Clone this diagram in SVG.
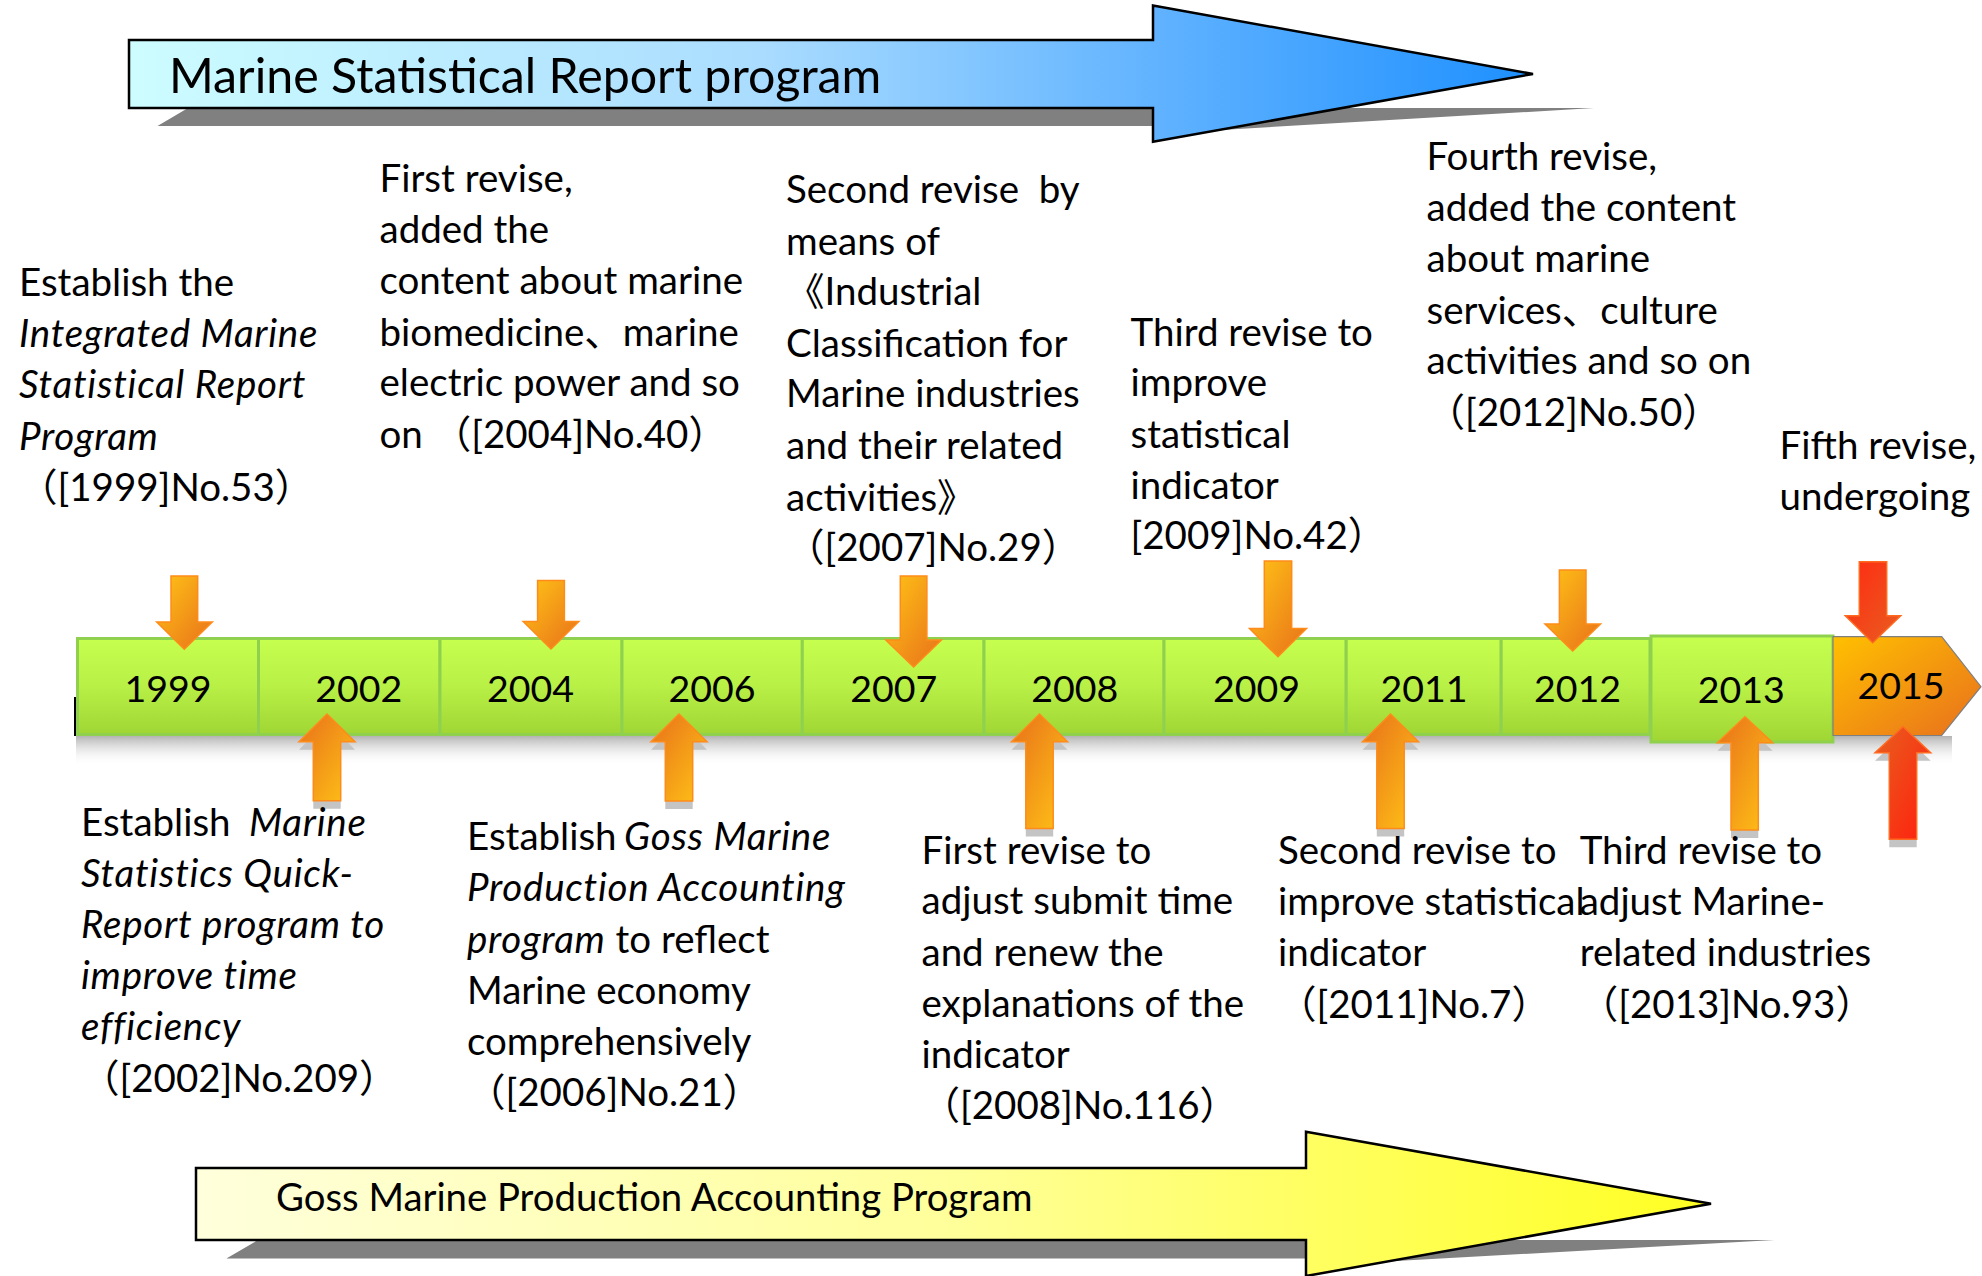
<svg xmlns="http://www.w3.org/2000/svg" width="1982" height="1276" viewBox="0 0 1982 1276">
<style>
.t{font-family:Lato,"Noto Sans CJK SC",sans-serif;font-size:38.5px;fill:#000;white-space:pre}
.i{font-style:italic;letter-spacing:0.75px}
.yr{font-family:Lato,"Noto Sans CJK SC",sans-serif;font-size:37.5px;fill:#000;text-anchor:middle}
.ttl{font-family:Lato,"Noto Sans CJK SC",sans-serif;fill:#000;white-space:pre}
.seg{fill:url(#gGreen);stroke:#8fd14f;stroke-width:3}
.dn{fill:url(#gDown);stroke:#ff8c1a;stroke-width:1.5}
.up{fill:url(#gUp);stroke:#ff8c1a;stroke-width:1.5}
.dnr{fill:url(#gDownR);stroke:#ff6a20;stroke-width:1.5}
.upr{fill:url(#gUpR);stroke:#ff6a20;stroke-width:1.5}
.sh{fill:#c4c4c4}
</style>
<defs>
<linearGradient id="gBlue" x1="0" y1="0" x2="1" y2="0">
<stop offset="0" stop-color="#cdfdff"/><stop offset="0.45" stop-color="#aadcff"/><stop offset="0.75" stop-color="#5cb0ff"/><stop offset="1" stop-color="#1e90ff"/>
</linearGradient>
<linearGradient id="gYellow" x1="0" y1="0" x2="1" y2="0">
<stop offset="0" stop-color="#ffffdc"/><stop offset="0.5" stop-color="#ffff9a"/><stop offset="1" stop-color="#ffff22"/>
</linearGradient>
<linearGradient id="gGreen" x1="0" y1="0" x2="0" y2="1">
<stop offset="0" stop-color="#c6ff4e"/><stop offset="0.5" stop-color="#b8f046"/><stop offset="1" stop-color="#a0d634"/>
</linearGradient>
<linearGradient id="gOrange" x1="0" y1="0" x2="1" y2="1">
<stop offset="0" stop-color="#ffc000"/><stop offset="1" stop-color="#e86f1d"/>
</linearGradient>
<linearGradient id="gDown" x1="0" y1="0" x2="1" y2="1">
<stop offset="0" stop-color="#ffc416"/><stop offset="1" stop-color="#e8701a"/>
</linearGradient>
<linearGradient id="gUp" x1="0" y1="0" x2="1" y2="1">
<stop offset="0" stop-color="#e8701a"/><stop offset="1" stop-color="#ffc416"/>
</linearGradient>
<linearGradient id="gDownR" x1="0" y1="0" x2="1" y2="1">
<stop offset="0" stop-color="#ff2a12"/><stop offset="1" stop-color="#e85e20"/>
</linearGradient>
<linearGradient id="gUpR" x1="0" y1="0" x2="1" y2="1">
<stop offset="0" stop-color="#e8601e"/><stop offset="1" stop-color="#ff1e0e"/>
</linearGradient>
<linearGradient id="gShade" x1="0" y1="0" x2="0" y2="1">
<stop offset="0" stop-color="#9a9a9a" stop-opacity="0.75"/><stop offset="1" stop-color="#ffffff" stop-opacity="0"/>
</linearGradient>
</defs>
<rect width="1982" height="1276" fill="#fff"/>

<g id="top-program">
<polygon points="157.5,126 188,108 1594,108 1153,134 1153,126" fill="#808080"/>
<path d="M129,40 H1153 V5.5 L1533,74 L1153,141.7 V108 H129 Z" fill="url(#gBlue)" stroke="#000" stroke-width="2.5"/>
<text class="ttl" x="169" y="92.5" font-size="48.3">Marine Statistical Report program</text>
</g>

<g id="bottom-program">
<polygon points="226.4,1258.6 258,1240 1774.5,1240 1306,1266 1306,1258.6" fill="#808080"/>
<path d="M196,1168 H1306 V1131.7 L1711,1203.8 L1306,1276 V1240 H196 Z" fill="url(#gYellow)" stroke="#000" stroke-width="2.5"/>
<text class="ttl" x="276" y="1210.7" font-size="38.3">Goss Marine Production Accounting Program</text>
</g>

<g id="timeline">
<rect x="76" y="736" width="1876" height="30" fill="url(#gShade)"/>
<rect x="74" y="697" width="2.5" height="39" fill="#000"/>
<g id="y1999"><rect class="seg" x="77.5" y="638.5" width="181" height="96"/><text class="yr" x="168" y="701.5">1999</text></g>
<g id="y2002"><rect class="seg" x="258.5" y="638.5" width="181.5" height="96"/><text class="yr" x="358.7" y="701.5">2002</text></g>
<g id="y2004"><rect class="seg" x="440" y="638.5" width="182" height="96"/><text class="yr" x="530.4" y="701.5">2004</text></g>
<g id="y2006"><rect class="seg" x="622" y="638.5" width="180.3" height="96"/><text class="yr" x="712" y="701.5">2006</text></g>
<g id="y2007"><rect class="seg" x="802.3" y="638.5" width="181.7" height="96"/><text class="yr" x="893.8" y="701.5">2007</text></g>
<g id="y2008"><rect class="seg" x="984" y="638.5" width="180" height="96"/><text class="yr" x="1074.8" y="701.5">2008</text></g>
<g id="y2009"><rect class="seg" x="1164" y="638.5" width="182.2" height="96"/><text class="yr" x="1256.4" y="701.5">2009</text></g>
<g id="y2011"><rect class="seg" x="1346.2" y="638.5" width="155" height="96"/><text class="yr" x="1424" y="701.5">2011</text></g>
<g id="y2012"><rect class="seg" x="1501.2" y="638.5" width="148.8" height="96"/><text class="yr" x="1577.5" y="701.5">2012</text></g>
<g id="y2013"><rect class="seg" x="1651" y="636" width="182" height="106" stroke-width="3.5"/><text class="yr" x="1741.3" y="703.3">2013</text></g>
<g id="y2015"><path d="M1833,636.7 H1941.7 L1981,686.7 L1941.7,735.5 H1833 Z" fill="url(#gOrange)" stroke="#7f7f7f" stroke-width="1.2"/><text class="yr" x="1901" y="699.3">2015</text></g>
</g>

<g id="connectors">
<path class="dn" d="M171,576 H197.7 V622 H212.3 L184.3,649.3 L156.7,622 H171 Z"/>
<path class="dn" d="M537.6,580.5 H564.4 V621.6 H578.8 L551,649 L523.2,621.6 H537.6 Z"/>
<path class="dn" d="M900.3,576 H926.9 V640 H941.4 L913.6,667 L885.8,640 H900.3 Z"/>
<path class="dn" d="M1264.3,561 H1291.7 V628.5 H1306.5 L1278,656.8 L1249.5,628.5 H1264.3 Z"/>
<path class="dn" d="M1559.4,570 H1586 V624 H1600.5 L1572.7,651 L1545,624 H1559.4 Z"/>
<path class="dnr" d="M1859.3,561.7 H1886.7 V615.7 H1900.7 L1872.7,642.7 L1845.3,615.7 H1859.3 Z"/>
<path class="sh" d="M327,722 L355,749.7 H340.7 V808.7 H313.3 V749.7 H299 Z"/>
<path class="sh" d="M679,722 L707,749.7 H692.7 V809 H665.3 V749.7 H651 Z"/>
<path class="sh" d="M1039.5,722 L1067.5,749.7 H1053.2 V836.5 H1025.8 V749.7 H1011.5 Z"/>
<path class="sh" d="M1390.5,722 L1418.5,749.7 H1404.2 V836.5 H1376.8 V749.7 H1362.5 Z"/>
<path class="sh" d="M1745,724.7 L1772.7,750.7 H1758.3 V838 H1731 V750.7 H1717.3 Z"/>
<path class="sh" d="M1903,734.7 L1930.7,760.7 H1916.7 V847.3 H1889.3 V760.7 H1875 Z"/>
<path class="up" d="M327,714 L355,741.7 H340.7 V800.7 H313.3 V741.7 H299 Z"/>
<path class="up" d="M679,714 L707,741.7 H692.7 V801 H665.3 V741.7 H651 Z"/>
<path class="up" d="M1039.5,714 L1067.5,741.7 H1053.2 V828.5 H1025.8 V741.7 H1011.5 Z"/>
<path class="up" d="M1390.5,714 L1418.5,741.7 H1404.2 V828.5 H1376.8 V741.7 H1362.5 Z"/>
<path class="up" d="M1745,716.7 L1772.7,742.7 H1758.3 V830 H1731 V742.7 H1717.3 Z"/>
<path class="upr" d="M1903,726.7 L1930.7,752.7 H1916.7 V839.3 H1889.3 V752.7 H1875 Z"/>
</g>

<g id="note-1999">
<text class="t" x="19" y="296">Establish the</text>
<text class="t i" x="19" y="347">Integrated Marine</text>
<text class="t i" x="19" y="398">Statistical Report</text>
<text class="t i" x="19" y="449.5">Program</text>
<text class="t" x="19" y="501">（[1999]No.53）</text>
</g>
<g id="note-2004">
<text class="t" x="379.5" y="192.4">First revise,</text>
<text class="t" x="379.5" y="243.4">added the</text>
<text class="t" x="379.5" y="294">content about marine</text>
<text class="t" x="379.5" y="346">biomedicine、marine</text>
<text class="t" x="379.5" y="396">electric power and so</text>
<text class="t" x="379.5" y="447.6">on （[2004]No.40）</text>
</g>
<g id="note-2007">
<text class="t" x="786" y="202.7">Second revise  by</text>
<text class="t" x="786" y="254.5">means of</text>
<text class="t" x="786" y="305">《Industrial</text>
<text class="t" x="786" y="357">Classification for</text>
<text class="t" x="786" y="407">Marine industries</text>
<text class="t" x="786" y="459">and their related</text>
<text class="t" x="786" y="510.5">activities》</text>
<text class="t" x="786" y="560.5">（[2007]No.29）</text>
</g>
<g id="note-2009">
<text class="t" x="1130.5" y="346">Third revise to</text>
<text class="t" x="1130.5" y="396">improve</text>
<text class="t" x="1130.5" y="447.6">statistical</text>
<text class="t" x="1130.5" y="499">indicator</text>
<text class="t" x="1130.5" y="549">[2009]No.42）</text>
</g>
<g id="note-2012">
<text class="t" x="1426.5" y="170">Fourth revise,</text>
<text class="t" x="1426.5" y="221">added the content</text>
<text class="t" x="1426.5" y="272">about marine</text>
<text class="t" x="1426.5" y="323.7">services、culture</text>
<text class="t" x="1426.5" y="373.7">activities and so on</text>
<text class="t" x="1426.5" y="425.5">（[2012]No.50）</text>
</g>
<g id="note-2015">
<text class="t" x="1779.6" y="458.7">Fifth revise,</text>
<text class="t" x="1779.6" y="509.8">undergoing</text>
</g>
<g id="note-2002">
<text class="t" x="81" y="836">Establish<tspan class="i" x="249">Marine</tspan></text>
<text class="t i" x="81" y="886.5">Statistics Quick-</text>
<text class="t i" x="81" y="938">Report program to</text>
<text class="t i" x="81" y="989">improve time</text>
<text class="t i" x="81" y="1040">efficiency</text>
<text class="t" x="81" y="1092">（[2002]No.209）</text>
</g>
<g id="note-2006">
<text class="t" x="467" y="850">Establish<tspan class="i" x="624">Goss Marine</tspan></text>
<text class="t i" x="467" y="901">Production Accounting</text>
<text class="t" x="467" y="952.7"><tspan class="i">program</tspan> to reflect</text>
<text class="t" x="467" y="1004">Marine economy</text>
<text class="t" x="467" y="1054.5">comprehensively</text>
<text class="t" x="467" y="1105.7">（[2006]No.21）</text>
</g>
<g id="note-2008">
<text class="t" x="921.5" y="863.6">First revise to</text>
<text class="t" x="921.5" y="914">adjust submit time</text>
<text class="t" x="921.5" y="965.5">and renew the</text>
<text class="t" x="921.5" y="1016.6">explanations of the</text>
<text class="t" x="921.5" y="1068">indicator</text>
<text class="t" x="921.5" y="1119">（[2008]No.116）</text>
</g>
<g id="note-2011">
<text class="t" x="1278" y="863.6">Second revise to</text>
<text class="t" x="1278" y="915">improve statistical</text>
<text class="t" x="1278" y="966">indicator</text>
<text class="t" x="1278" y="1017.5">（[2011]No.7）</text>
</g>
<g id="note-2013">
<text class="t" x="1579.7" y="863.6">Third revise to</text>
<text class="t" x="1579.7" y="915">adjust Marine-</text>
<text class="t" x="1579.7" y="966">related industries</text>
<text class="t" x="1579.7" y="1017.5">（[2013]No.93）</text>
</g>
</svg>
